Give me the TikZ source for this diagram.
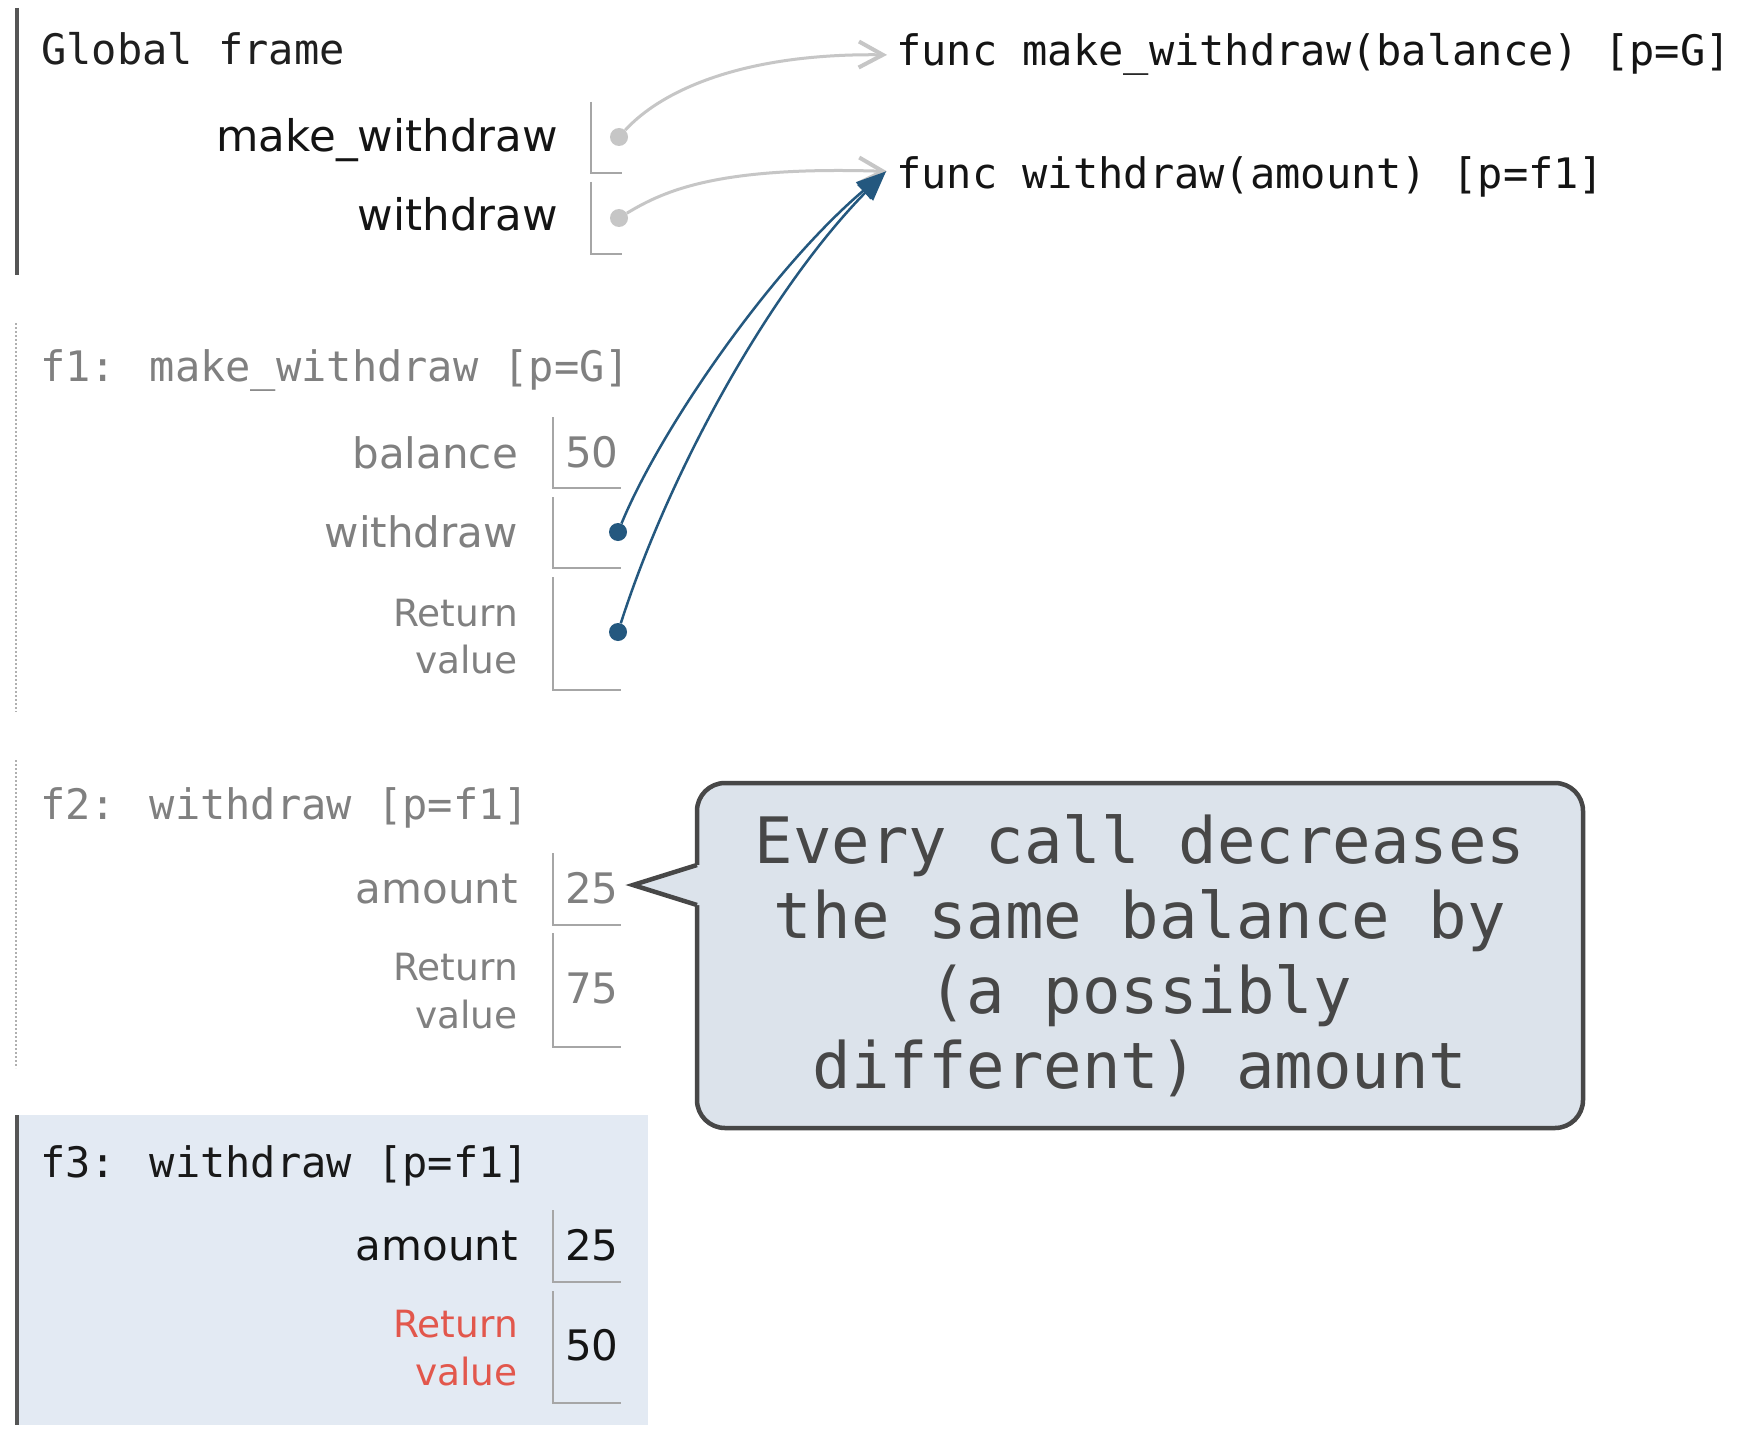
\documentclass[tikz,border=0pt]{standalone}
\usepackage{fontspec}
\usetikzlibrary{arrows.meta}
\newfontfamily\codefont{DejaVu Sans Mono}
\newfontfamily\namefont{DejaVu Sans}
\definecolor{barcol}{HTML}{555555}
\definecolor{dotbarcol}{HTML}{B0B0B0}
\definecolor{cellline}{HTML}{A6A6A6}
\definecolor{fadedtext}{HTML}{808080}
\definecolor{activebg}{HTML}{E3EAF3}
\definecolor{retred}{HTML}{E2574C}
\definecolor{refblue}{HTML}{24587F}
\definecolor{refgrey}{HTML}{C6C6C6}
\definecolor{notefill}{HTML}{DCE3EB}
\definecolor{noteline}{HTML}{474747}
\tikzset{
  code/.style={font=\codefont\fontsize{42}{50}\selectfont, anchor=base west, inner sep=0pt},
  varname/.style={font=\namefont\fontsize{42}{50}\selectfont, anchor=base east, inner sep=0pt},
  gname/.style={font=\namefont\fontsize{43.5}{50}\selectfont, anchor=base east, inner sep=0pt},
  retlbl/.style={font=\namefont\fontsize{37.5}{45}\selectfont, anchor=base east, inner sep=0pt},
  val/.style={font=\namefont\fontsize{42}{50}\selectfont, anchor=base west, inner sep=0pt},
  cell/.style={draw=cellline, line width=2pt},
  framebar/.style={draw=barcol, line width=4pt},
  dotbar/.style={draw=dotbarcol, line width=2pt, dash pattern=on 2pt off 2pt},
  gdot/.style={circle, fill=refgrey, minimum size=18pt, inner sep=0pt},
  bdot/.style={circle, fill=refblue, minimum size=18pt, inner sep=0pt},
  garrow/.style={draw=refgrey, line width=3pt, -{Straight Barb[length=24pt,width=26pt,line width=4pt]}},
  barrow/.style={draw=refblue, line width=2.5pt, -{Triangle[length=30pt,width=22pt]}},
  notebox/.style={rectangle, rounded corners=28pt, fill=notefill, draw=noteline, line width=4.5pt,
    minimum width=886pt, minimum height=345pt, align=center, text=noteline,
    font=\codefont\fontsize{64}{75}\selectfont},
}
\begin{document}
\begin{tikzpicture}[x=1pt,y=-1pt]
\fill[white] (0,0) rectangle (1761,1434);
\useasboundingbox (0,0) rectangle (1761,1434);

% ---------- global frame ----------
\draw[framebar] (17,8) -- (17,275);
\node[code, text=black!88] (gtitle) at (41,65) {Global frame};
\node[gname, text=black!92] (gmw) at (558,152) {make\_withdraw};
\node[gname, text=black!92] (gw) at (558,230) {withdraw};
\draw[cell] (591,102) |- (622,173);
\draw[cell] (591,182) |- (622,254);
\node[gdot] (gd1) at (619,137) {};
\node[gdot] (gd2) at (619,218) {};

% ---------- heap objects ----------
\node[code, text=black!92] (fn1) at (896,66) {func make\_withdraw(balance) [p=G]};
\node[code, text=black!92] (fn2) at (896,189) {func withdraw(amount) [p=f1]};

% ---------- f1 ----------
\draw[dotbar] (16,323) -- (16,712);
\node[code, text=fadedtext] (f1title) at (40,381) {f1: make\_withdraw [p=G]};
\node[varname, text=fadedtext] (f1bal) at (518,468) {balance};
\draw[cell] (553,417) |- (621,488);
\node[val, text=fadedtext] (f1balv) at (565,467) {50};
\node[varname, text=fadedtext] (f1w) at (518,547) {withdraw};
\draw[cell] (553,497) |- (621,568);
\node[bdot] (bd1) at (618,532) {};
\node[retlbl, text=fadedtext] (f1r1) at (518,626) {Return};
\node[retlbl, text=fadedtext] (f1r2) at (518,673) {value};
\draw[cell] (553,577) |- (621,690);
\node[bdot] (bd2) at (618,632) {};

% ---------- f2 ----------
\draw[dotbar] (16,760) -- (16,1068);
\node[code, text=fadedtext] (f2title) at (40,819) {f2: withdraw [p=f1]};
\node[varname, text=fadedtext] (f2amt) at (518,903) {amount};
\draw[cell] (553,853) |- (621,925);
\node[val, text=fadedtext] (f2amtv) at (565,903) {25};
\node[retlbl, text=fadedtext] (f2r1) at (518,980) {Return};
\node[retlbl, text=fadedtext] (f2r2) at (518,1028) {value};
\draw[cell] (553,933) |- (621,1047);
\node[val, text=fadedtext] (f2rv) at (565,1003) {75};

% ---------- f3 (active frame) ----------
\fill[activebg] (15,1115) rectangle (648,1425);
\draw[framebar] (17,1115) -- (17,1425);
\node[code, text=black!90] (f3title) at (40,1177) {f3: withdraw [p=f1]};
\node[varname, text=black!92] (f3amt) at (518,1260) {amount};
\draw[cell] (553,1210) |- (621,1282);
\node[val, text=black!92] (f3amtv) at (565,1260) {25};
\node[retlbl, text=retred] (f3r1) at (518,1337) {Return};
\node[retlbl, text=retred] (f3r2) at (518,1385) {value};
\draw[cell] (553,1291) |- (621,1403);
\node[val, text=black!92] (f3rv) at (565,1360) {50};

% ---------- references ----------
\draw[garrow] (gd1) .. controls (660,92) and (740,53) .. ([xshift=-9pt]fn1.west);
\draw[garrow] (gd2) .. controls (665,190) and (720,166) .. ([xshift=-9pt,yshift=6pt]fn2.west);
\draw[barrow] (bd1) .. controls (660,430) and (770,270) .. ([xshift=-10pt,yshift=6pt]fn2.west);
\draw[barrow] (bd2) .. controls (670,470) and (770,290) .. ([xshift=-10pt,yshift=6pt]fn2.west);

% ---------- speech bubble ----------
\node[notebox] (note) at (1140,955.5) {Every call decreases\\the same balance by\\(a possibly\\different) amount};
\fill[notefill] (633,885) -- (697,865) -- (701,865) -- (701,905) -- (697,905) -- cycle;
\draw[noteline, line width=4.5pt, line join=miter] (697,865) -- (633,885) -- (697,905);
\end{tikzpicture}
\end{document}
